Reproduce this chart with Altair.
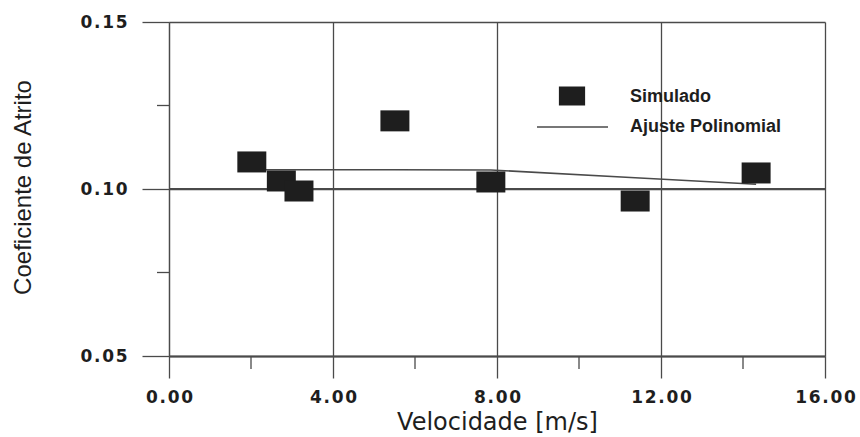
import altair as alt
import pandas as pd

# Simulated friction coefficient vs. speed
velocidade = [2.02, 2.74, 3.17, 5.51, 7.85, 11.37, 14.32]
coef_simulado = [0.1081, 0.1024, 0.0994, 0.1204, 0.1021, 0.0964, 0.1048]
# Polynomial fit evaluated at the same speeds
coef_ajuste = [0.1058, 0.1058, 0.1058, 0.1058, 0.1057, 0.1034, 0.1014]

x_major = [0, 4, 8, 12, 16]
y_major = [0.05, 0.10, 0.15]
x_minor = [2, 6, 10, 14]
y_minor = [0.075, 0.125]
ref_line = [0.10]

legend_labels = ["Simulado", "Ajuste Polinomial"]

W, H = 656, 334
INK = "#1e1e1e"
GRID = "#4a4a4a"
TICK_FONT = "DejaVu Sans"
TEXT_FONT = "Liberation Sans"

df = pd.DataFrame({"vel": velocidade, "sim": coef_simulado, "fit": coef_ajuste})

xs = alt.Scale(domain=[0, 16], nice=False, zero=False)
ys = alt.Scale(domain=[0.05, 0.15], nice=False, zero=False)

# tick labels drawn with a hair space between characters
spaced = "join(split(datum.label, ''), '\u200a')"

x_axis = alt.Axis(
    values=x_major, format=".2f", labelExpr=spaced,
    title="Velocidade [m/s]", grid=True, gridColor=GRID, gridWidth=1.3,
    tickSize=22, tickColor=GRID, tickWidth=1.3,
    domainColor=GRID, domainWidth=2.2,
    labelFont=TICK_FONT, labelFontWeight="bold", labelFontSize=17,
    labelColor=INK, labelPadding=11, labelFlush=False,
    titleFont=TICK_FONT, titleFontSize=24, titleFontWeight="normal",
    titleColor=INK, titleY=66, titleBaseline="middle",
)
y_axis = alt.Axis(
    values=y_major, format=".2f", labelExpr=spaced,
    title="Coeficiente de Atrito", grid=True, gridColor=GRID, gridWidth=1.3,
    tickSize=27, tickColor=GRID, tickWidth=1.3,
    domainColor=GRID, domainWidth=1.2,
    labelFont=TICK_FONT, labelFontWeight="bold", labelFontSize=17,
    labelColor=INK, labelPadding=15, labelFlush=False,
    titleFont=TEXT_FONT, titleFontSize=24, titleFontWeight="normal",
    titleColor=INK, titleX=-146, titleY=H / 2 - 2, titleBaseline="middle",
    titleAlign="center", titleAngle=270,
)

base = alt.Chart(df)

points = base.mark_point(
    shape="M-1.38,-1H1.38V1H-1.38Z", filled=True, size=441,
    color=INK, opacity=1,
).encode(
    x=alt.X("vel:Q", scale=xs, axis=x_axis),
    y=alt.Y("sim:Q", scale=ys, axis=y_axis),
)

fit_line = base.mark_line(color=GRID, strokeWidth=1.5).encode(
    x=alt.X("vel:Q", scale=xs),
    y=alt.Y("fit:Q", scale=ys),
)

ref = alt.Chart(pd.DataFrame({"y": ref_line})).mark_rule(
    color=GRID, strokeWidth=2.2
).encode(y=alt.Y("y:Q", scale=ys))

minor_x = alt.Chart(pd.DataFrame({"x": x_minor})).mark_rule(
    color=GRID, strokeWidth=1.3
).encode(x=alt.X("x:Q", scale=xs), y=alt.value(H), y2=alt.value(H + 13))

minor_y = alt.Chart(pd.DataFrame({"y": y_minor})).mark_rule(
    color=GRID, strokeWidth=1.3
).encode(y=alt.Y("y:Q", scale=ys), x=alt.value(-12), x2=alt.value(0))

# Legend drawn inside the plot area
leg_df = pd.DataFrame({"label": legend_labels})
leg_square = alt.Chart(leg_df.iloc[[0]]).mark_point(
    shape="M-1.38,-1H1.38V1H-1.38Z", filled=True, size=361,
    color=INK, opacity=1,
).encode(x=alt.value(403), y=alt.value(74))
leg_line = alt.Chart(leg_df.iloc[[1]]).mark_rule(
    color=GRID, strokeWidth=1.5
).encode(x=alt.value(368), x2=alt.value(439), y=alt.value(105))
leg_text1 = alt.Chart(leg_df.iloc[[0]]).mark_text(
    align="left", baseline="middle", font=TEXT_FONT, fontWeight="bold",
    fontSize=18, color=INK,
).encode(x=alt.value(461), y=alt.value(75), text="label:N")
leg_text2 = alt.Chart(leg_df.iloc[[1]]).mark_text(
    align="left", baseline="middle", font=TEXT_FONT, fontWeight="bold",
    fontSize=18, color=INK,
).encode(x=alt.value(461), y=alt.value(105), text="label:N")

chart = alt.layer(
    ref, minor_x, minor_y, fit_line, points,
    leg_square, leg_line, leg_text1, leg_text2,
).properties(
    width=W, height=H,
    autosize=alt.AutoSizeParams(type="none"),
    padding={"left": 169, "top": 22, "right": 35, "bottom": 81},
    background="white",
).configure_view(stroke=None)

chart.save("out.html", embed_options={"renderer": "svg", "actions": False})
